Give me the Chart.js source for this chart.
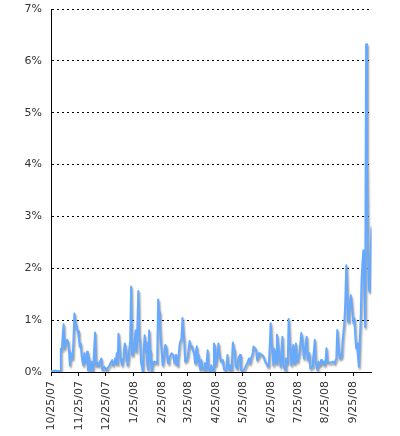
<!DOCTYPE html>
<html>
<head>
<meta charset="utf-8">
<script src="https://cdn.jsdelivr.net/npm/chart.js@4.4.1/dist/chart.umd.min.js"></script>
<style>
  html, body { margin: 0; padding: 0; background: #fff; }
</style>
</head>
<body>
<canvas id="chart" width="400" height="436"></canvas>
<script>
// --- Data: one value per day, starting 10/25/07 (percent) ---
const rates = [
  0.02, 0.02, 0.01, 0.02, 0.02, 0.03, 0.02, 0.02, 0.01, 0.02, 0.02,
  0.45, 0.42, 0.70, 0.92, 0.45, 0.55, 0.60, 0.62, 0.58, 0.40,
  0.13, 0.36, 0.30, 0.26, 0.60, 1.13, 0.98, 0.90, 0.82, 0.78,
  0.65, 0.49, 0.55, 0.33, 0.20, 0.13, 0.36, 0.20, 0.30, 0.39,
  0.04, 0.30, 0.10, 0.00, 0.20, 0.00, 0.10, 0.45, 0.76, 0.13,
  0.15, 0.17, 0.12, 0.20, 0.22, 0.26, 0.04, 0.08, 0.10, 0.07,
  0.05, 0.04, 0.08, 0.10, 0.13, 0.17, 0.20, 0.23, 0.13, 0.20,
  0.26, 0.17, 0.36, 0.15, 0.74, 0.50, 0.33, 0.20, 0.13, 0.25,
  0.39, 0.55, 0.45, 0.33, 0.13, 0.25, 0.45, 0.60, 1.65,
  0.33, 0.38, 0.42, 0.62, 0.80, 0.39, 0.90, 1.56, 0.70, 0.58,
  0.20, 0.10, 0.00, 0.40, 0.71, 0.42, 0.58, 0.13, 0.04, 0.80,
  0.40, 0.20, 0.00, 0.20, 0.17, 0.20, 0.19, 0.18, 0.17, 1.40,
  1.15, 0.90, 0.60, 0.39, 0.13, 0.23, 0.40, 0.52, 0.49, 0.30,
  0.17, 0.26, 0.30, 0.33, 0.36, 0.34, 0.33, 0.17, 0.25, 0.33,
  0.13, 0.25, 0.36, 0.55, 0.60, 0.65, 1.04, 0.75, 0.58, 0.20,
  0.23, 0.26, 0.30, 0.45, 0.60, 0.49, 0.50, 0.49, 0.40, 0.36,
  0.17, 0.40, 0.49, 0.23, 0.33, 0.10, 0.04, 0.23, 0.10, 0.07,
  0.04, 0.17, 0.04, 0.20, 0.42, 0.04, 0.02, 0.00, 0.13, 0.05,
  0.00, 0.55,
  0.50, 0.13, 0.25, 0.33, 0.55, 0.35, 0.26, 0.20, 0.22, 0.23,
  0.06, 0.04, 0.02, 0.10, 0.33, 0.10, 0.04, 0.13, 0.04, 0.20,
  0.57, 0.45, 0.42, 0.13, 0.08, 0.07, 0.26, 0.30, 0.33, 0.04,
  0.02, 0.00, 0.04, 0.06, 0.10, 0.14, 0.17, 0.22, 0.26, 0.17,
  0.25, 0.30, 0.36, 0.49, 0.47, 0.45, 0.42, 0.23, 0.30, 0.36,
  0.36, 0.35, 0.33, 0.32, 0.30, 0.25, 0.20, 0.17, 0.15, 0.10,
  0.13, 0.50, 0.94, 0.55, 0.39, 0.13, 0.45, 0.30, 0.17, 0.72,
  0.55, 0.42, 0.26, 0.10, 0.35, 0.68, 0.17, 0.08, 0.04, 0.26,
  0.20, 0.17, 1.02, 0.60, 0.39, 0.13, 0.30, 0.52, 0.17, 0.35,
  0.55, 0.26,
  0.20, 0.30, 0.36, 0.55, 0.75, 0.65, 0.45, 0.26, 0.42, 0.55,
  0.68, 0.23, 0.30, 0.36, 0.07, 0.08, 0.10, 0.23, 0.40, 0.62,
  0.20, 0.10, 0.04, 0.20, 0.15, 0.13, 0.23, 0.18, 0.17, 0.20,
  0.13, 0.20, 0.46, 0.20, 0.19, 0.18, 0.18, 0.18, 0.19, 0.20,
  0.18, 0.17, 0.22, 0.26, 0.81, 0.55, 0.35, 0.26, 0.28, 0.30,
  0.62, 0.80, 1.00, 1.39, 2.06, 1.58, 0.97, 1.13, 1.30, 1.48,
  1.32, 1.10, 0.94, 1.03, 0.70, 0.46, 0.55, 0.30, 0.10, 0.62,
  1.00, 1.77, 2.10, 2.35, 1.58, 0.87, 6.32, 4.10, 2.40, 1.58,
  1.55, 2.20, 2.80
];

// tick positions (days after 10/25/07) and their labels
const tickDays = [0, 31, 61, 92, 123, 152, 183, 213, 244, 274, 305, 336];
const tickLabels = ['10/25/07', '11/25/07', '12/25/07', '1/25/08', '2/25/08', '3/25/08',
                    '4/25/08', '5/25/08', '6/25/08', '7/25/08', '8/25/08', '9/25/08'];
const yTicks = [0, 1, 2, 3, 4, 5, 6, 7];

const points = rates.map((v, i) => ({ x: i, y: v }));

// soft grey drop shadow under the line
const shadow = {
  id: 'shadow',
  beforeDatasetsDraw(chart) {
    const c = chart.ctx;
    c.save();
    c.shadowColor = 'rgba(0,0,0,0.4)';
    c.shadowOffsetX = 1;
    c.shadowOffsetY = 2;
    c.shadowBlur = 2;
  },
  afterDatasetsDraw(chart) { chart.ctx.restore(); }
};

const font = { family: 'DejaVu Sans', size: 11 };

new Chart(document.getElementById('chart'), {
  type: 'line',
  data: {
    datasets: [{
      data: points,
      borderColor: '#66aaff',
      borderWidth: 2,
      pointRadius: 0,
      tension: 0,
      borderJoinStyle: 'round',
      fill: false
    }]
  },
  options: {
    responsive: false,
    animation: false,
    layout: { padding: { top: 9, right: 28.5, left: 0, bottom: 0 } },
    plugins: { legend: { display: false }, tooltip: { enabled: false } },
    scales: {
      x: {
        type: 'linear',
        min: 0,
        max: rates.length - 1,
        afterBuildTicks: s => { s.ticks = tickDays.map(v => ({ value: v })); },
        afterFit: s => { s.height = 64; s.paddingLeft = 0; s.paddingRight = 0; },
        grid: { drawOnChartArea: false, drawTicks: true, tickLength: 4, color: '#000' },
        border: { color: '#000', width: 1 },
        ticks: {
          autoSkip: false, maxRotation: 90, minRotation: 90, padding: 5,
          color: '#333', font,
          callback: v => tickLabels[tickDays.indexOf(v)]
        }
      },
      y: {
        min: 0,
        max: 7,
        afterBuildTicks: s => { s.ticks = yTicks.map(v => ({ value: v })); },
        afterFit: s => { s.width = 51; s.paddingTop = 0; s.paddingBottom = 0; },
        grid: { color: '#000', lineWidth: 1, drawTicks: false },
        border: { color: '#000', width: 1, dash: [2, 3] },
        ticks: { padding: 9, color: '#333', font, callback: v => v + '%' }
      }
    }
  },
  plugins: [shadow]
});
</script>
</body>
</html>
